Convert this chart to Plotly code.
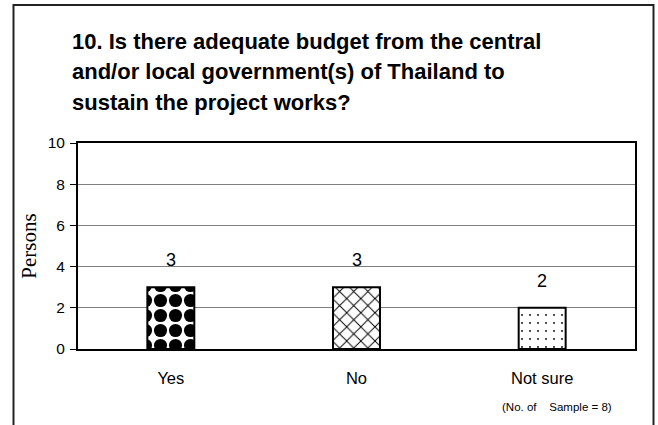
import plotly.graph_objects as go

# Survey answers for question 10
categories = ["Yes", "No", "Not sure"]
persons = [3, 3, 2]
y_ticks = [0, 2, 4, 6, 8, 10]
title_lines = [
    "10. Is there adequate budget from the central",
    "and/or local government(s) of Thailand to",
    "sustain the project works?",
]
footnote = "(No. of    Sample = 8)"

# Fill patterns for each bar
patterns = [
    dict(shape=".", size=15, solidity=0.6, fgcolor="black", bgcolor="white",
         fgopacity=1, fillmode="replace"),
    dict(shape="x", size=10, solidity=0.18, fgcolor="black", bgcolor="white",
         fgopacity=1, fillmode="replace"),
    dict(shape=".", size=8, solidity=0.04, fgcolor="black", bgcolor="white",
         fgopacity=1, fillmode="replace"),
]

W, H = 658, 425
L, R, T, B = 78, 23, 143, 76
plot_h = H - T - B

def py(pixel_y):
    """Convert a pixel row to a paper y coordinate."""
    return (H - B - pixel_y) / plot_h

def px(pixel_x):
    return (pixel_x - L) / (W - L - R)

fig = go.Figure()
for cat, val, pat in zip(categories, persons, patterns):
    fig.add_trace(go.Bar(
        x=[cat], y=[val],
        marker=dict(color="white", line=dict(color="black", width=2), pattern=pat),
        width=0.253,
        showlegend=False,
        hoverinfo="skip",
    ))

# Value labels above the bars
for cat, val in zip(categories, persons):
    fig.add_annotation(
        x=cat, y=val, text=str(val), showarrow=False,
        yanchor="bottom", yshift=15,
        font=dict(family="Liberation Sans, Arial", size=18, color="black"),
    )

# Title, one line per annotation for wider line spacing
for line, yc in zip(title_lines, [41, 72, 102]):
    fig.add_annotation(
        xref="paper", yref="paper", x=px(70), y=py(yc),
        xanchor="left", yanchor="middle", showarrow=False,
        text="<b>" + line + "</b>",
        font=dict(family="Liberation Sans, Arial", size=22, color="black"),
    )

fig.add_annotation(
    xref="paper", yref="paper", x=px(614), y=py(407),
    xanchor="right", yanchor="middle", showarrow=False,
    text=footnote,
    font=dict(family="Liberation Sans, Arial", size=11.5, color="black"),
)

# Outer frame, open at the bottom
fig.add_shape(
    type="path", xref="paper", yref="paper",
    path=f"M {px(13.5)} {py(430)} L {px(13.5)} {py(5)} L {px(653.5)} {py(5)} L {px(653.5)} {py(430)}",
    line=dict(color="#222222", width=2),
)

fig.update_layout(
    width=W, height=H,
    margin=dict(l=L, r=R, t=T, b=B),
    paper_bgcolor="white", plot_bgcolor="white",
    bargap=0.747,
    font=dict(family="Liberation Sans, Arial", color="black"),
)
fig.update_xaxes(
    showline=True, linecolor="black", linewidth=2, mirror=True,
    ticks="", tickfont=dict(size=16.5), ticklabelstandoff=13,
    showgrid=False,
)
fig.update_yaxes(
    range=[0, 10], tickvals=y_ticks,
    showline=True, linecolor="black", linewidth=2, mirror=True,
    ticks="outside", ticklen=6, tickcolor="black", tickwidth=1,
    tickfont=dict(size=15.5), ticklabelstandoff=2,
    showgrid=True, gridcolor="#808080", gridwidth=1,
    zeroline=False,
    title=dict(text="Persons", font=dict(family="Liberation Serif, Times New Roman", size=21), standoff=5),
)

fig.write_html("out.html")
